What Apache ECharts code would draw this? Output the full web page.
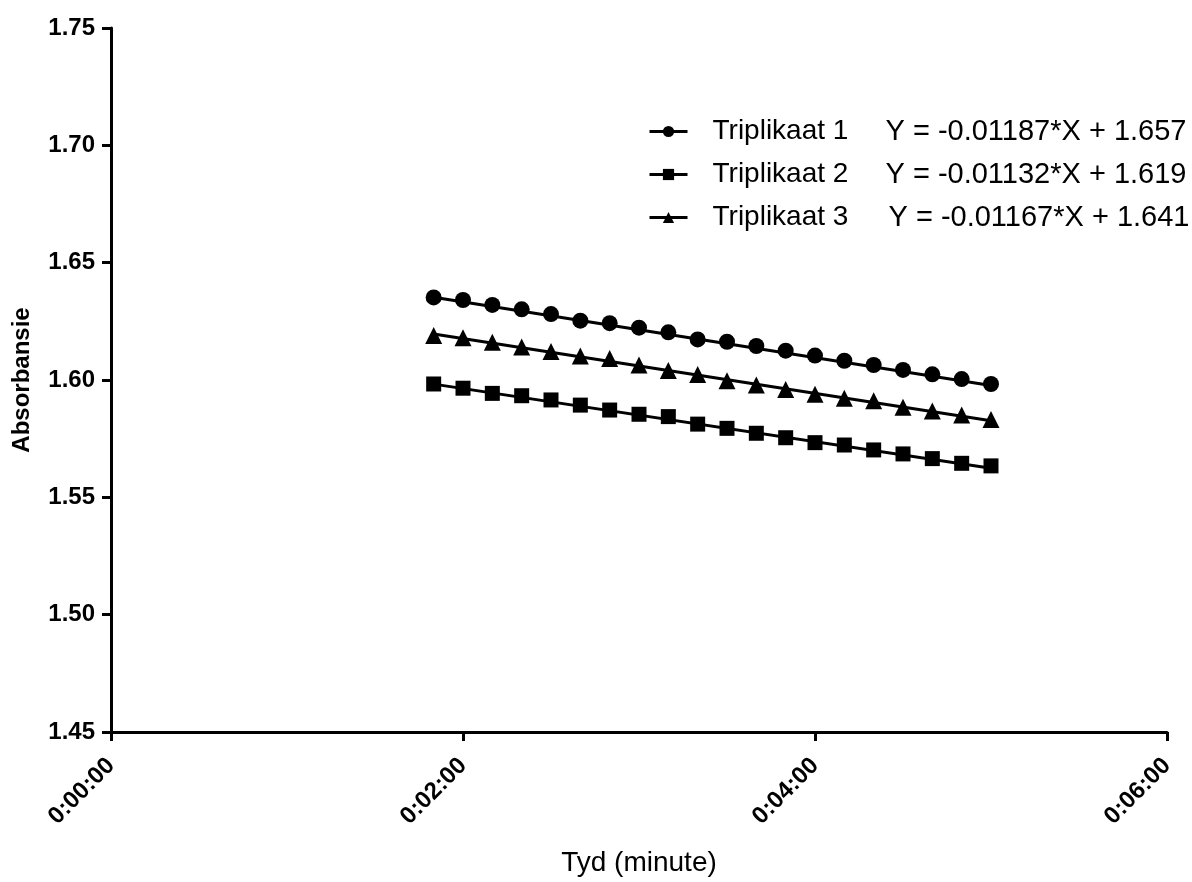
<!DOCTYPE html>
<html><head><meta charset="utf-8">
<script src="https://cdn.jsdelivr.net/npm/echarts@6/dist/echarts.min.js"></script>
<style>html,body{margin:0;padding:0;background:#fff}#c{width:1192px;height:882px}</style>
</head><body><div id="c"></div>
<script>
// time in seconds
const times = [110,120,130,140,150,160,170,180,190,200,210,220,230,240,250,260,270,280,290,300];
const trip1 = [1.6352,1.6341,1.6320,1.6301,1.6281,1.6253,1.6242,1.6223,1.6203,1.6173,1.6163,1.6145,1.6125,1.6104,1.6082,1.6064,1.6043,1.6024,1.6004,1.5983];
const trip2 = [1.5983,1.5965,1.5943,1.5933,1.5915,1.5893,1.5872,1.5854,1.5844,1.5812,1.5794,1.5773,1.5754,1.5733,1.5723,1.5702,1.5685,1.5665,1.5645,1.5634];
const trip3 = [1.6190,1.6180,1.6161,1.6141,1.6121,1.6102,1.6092,1.6064,1.6041,1.6023,1.5997,1.5979,1.5960,1.5939,1.5922,1.5912,1.5884,1.5868,1.5851,1.5832];
const names = ['Triplikaat 1','Triplikaat 2','Triplikaat 3'];
const slopes = [-0.01187,-0.01132,-0.01167];
const intercepts = [1.657,1.619,1.641];
const eqText = ['Y = -0.01187*X + 1.657','Y = -0.01132*X + 1.619','Y = -0.01167*X + 1.641'];
const symbols = ['circle','rect','triangle'];
const xTicks = ['0:00:00','0:02:00','0:04:00','0:06:00'];

const seriesData = [trip1, trip2, trip3];
const legendNames = names.map((n,i)=> n + '  ' + eqText[i]);

const series = [];
seriesData.forEach((d,i)=>{
  const x0 = times[0], x1 = times[times.length-1];
  series.push({
    name: legendNames[i], type:'line', symbol: symbols[i], showSymbol:false,
    symbolSize: 14, silent:true,
    lineStyle:{color:'#000', width:3}, itemStyle:{color:'#000'},
    data:[[x0, intercepts[i]+slopes[i]*x0/60],[x1, intercepts[i]+slopes[i]*x1/60]],
    z:2
  });
  series.push({
    name: names[i]+' data', type:'scatter', symbol: symbols[i],
    symbolSize: i===0?16:(i===1?15:17),
    itemStyle:{color:'#000', opacity:1},
    data: times.map((t,k)=>[t,d[k]]), z:3
  });
});

const chart = echarts.init(document.getElementById('c'));
chart.setOption({
  animation:false,
  backgroundColor:'#fff',
  grid:{left:111, top:28, right:25, bottom:150, containLabel:false},
  legend:{
    data: legendNames, orient:'vertical', left:643, top:112,
    itemWidth:38, itemHeight:14, itemGap:14, selectedMode:false,
    lineStyle:{width:3, color:'#000'},
    formatter: name => {
      const i = legendNames.indexOf(name);
      return '{s|\u00a0}{' + (i===2?'n3':'n') + '|' + names[i] + '}{e|' + eqText[i] + '}';
    },
    textStyle:{fontFamily:'Liberation Sans, Arial', fontSize:28, color:'#000',
      rich:{
        s:{width:20, fontSize:28, lineHeight:34},
        n:{width:173, fontSize:28, lineHeight:34, fontFamily:'Liberation Sans, Arial', color:'#000'},
        n3:{width:176, fontSize:28, lineHeight:34, fontFamily:'Liberation Sans, Arial', color:'#000'},
        e:{fontSize:29, lineHeight:34, fontFamily:'Liberation Sans, Arial', color:'#000'}
      }}
  },
  xAxis:{
    type:'value', min:0, max:360, interval:120,
    name:'Tyd (minute)', nameLocation:'middle', nameGap:117,
    nameTextStyle:{fontFamily:'Liberation Sans, Arial', fontSize:28, color:'#000'},
    axisLine:{lineStyle:{color:'#000', width:3}},
    axisTick:{show:true, length:9, lineStyle:{color:'#000', width:3}},
    axisLabel:{rotate:45, formatter:(v)=>xTicks[Math.round(v/120)], margin:30,
      fontFamily:'Liberation Sans, Arial', fontWeight:'bold', fontSize:24, color:'#000'},
    splitLine:{show:false}
  },
  yAxis:{
    type:'value', min:1.45, max:1.75, interval:0.05,
    name:'Absorbansie', nameLocation:'middle', nameGap:77, nameRotate:90,
    nameTextStyle:{fontFamily:'Liberation Sans, Arial', fontWeight:'bold', fontSize:24, color:'#000'},
    axisLine:{show:true, lineStyle:{color:'#000', width:3}},
    axisTick:{show:true, length:9, lineStyle:{color:'#000', width:3}},
    axisLabel:{formatter:v=>v.toFixed(2), margin:16,
      fontFamily:'Liberation Sans, Arial', fontWeight:'bold', fontSize:24, color:'#000'},
    splitLine:{show:false}
  },
  series: series
});
</script></body></html>
